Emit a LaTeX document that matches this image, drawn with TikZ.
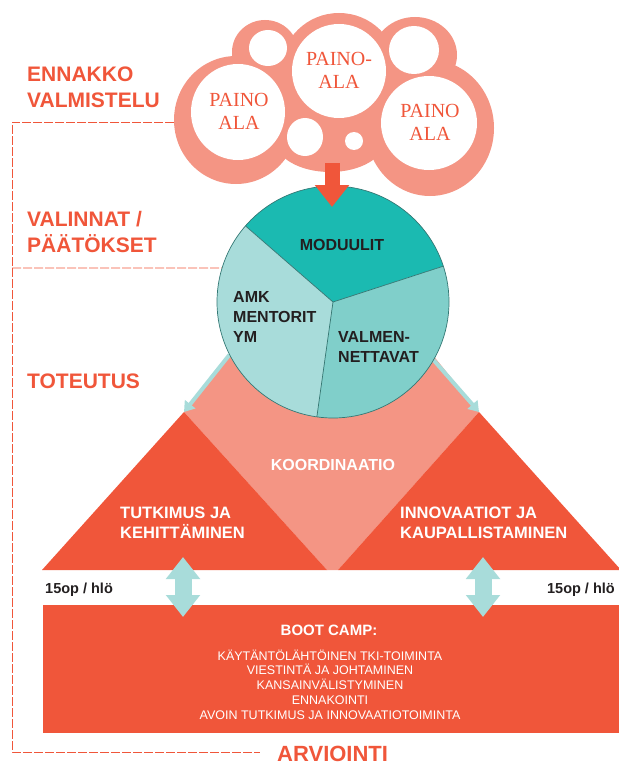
\documentclass[tikz,border=0pt]{standalone}
\usepackage{fontspec}
\setmainfont{Liberation Sans}
\newfontfamily\painofont{Liberation Serif}
\usetikzlibrary{arrows.meta,positioning}

\definecolor{oranssi}{RGB}{240,86,58}
\definecolor{lohi}{RGB}{244,149,132}
\definecolor{turkoosi}{RGB}{27,186,177}
\definecolor{turkoosi2}{RGB}{128,207,202}
\definecolor{vaalea}{RGB}{168,220,218}
\definecolor{tumma}{RGB}{35,31,32}
\definecolor{reuna}{RGB}{52,120,116}

\tikzset{
  lbl/.style={anchor=west, inner sep=0pt, align=left, text=oranssi, font=\bfseries\fontsize{21}{26}\selectfont},
  paino/.style={inner sep=0pt, align=center, text=oranssi, font=\painofont\fontsize{20}{23}\selectfont},
  pietxt/.style={inner sep=0pt, align=left, text=tumma, font=\bfseries\fontsize{16}{20}\selectfont},
  whitetxt/.style={inner sep=0pt, align=left, text=white, font=\bfseries\fontsize{16.5}{20}\selectfont},
  optxt/.style={inner sep=0pt, text=tumma, font=\bfseries\fontsize{14.5}{17}\selectfont},
  frameline/.style={oranssi, line width=0.8pt, dash pattern=on 9pt off 2pt},
  kupla/.style={fill=lohi},
  reika/.style={fill=white},
  vaaleanuoli/.style={vaalea, line width=4pt, -{Triangle[width=13pt,length=10pt]}},
  tuplanuoli/.style={vaalea, line width=17pt, {Triangle[width=33pt,length=22pt]}-{Triangle[width=33pt,length=22pt]}},
}

\begin{document}
\begin{tikzpicture}[x=1pt,y=1pt]

\useasboundingbox (0,0) rectangle (618,-765);

\node[circle, minimum size=232pt, inner sep=0pt] (pie) at (333,-302) {};
\coordinate (pilvireuna) at (174,-122);
\coordinate (kulma) at (12,-752);
\coordinate (loppu) at (260,-752);

% katkoviivat
\draw[frameline] (pilvireuna) -- (12,-122) -- (kulma) -- (loppu);
\draw[frameline] (12,-268) -- (pie.163);

% pilvi
\fill[kupla] (236,-120) ellipse [x radius=62, y radius=64];
\fill[kupla] (265,-52) ellipse [x radius=33, y radius=32];
\fill[kupla] (339,-70) ellipse [x radius=58, y radius=57];
\fill[kupla] (415,-55) ellipse [x radius=42, y radius=38];
\fill[kupla] (430,-128) ellipse [x radius=64, y radius=68];
\fill[kupla] (330,-140) ellipse [x radius=55, y radius=32];
\fill[kupla] (340,-110) ellipse [x radius=60, y radius=50];

\fill[reika] (238,-112) ellipse [x radius=47, y radius=48];
\fill[reika] (339,-71) ellipse [x radius=47, y radius=47];
\fill[reika] (429,-123) ellipse [x radius=48, y radius=47];
\fill[reika] (268,-48) ellipse [x radius=19, y radius=18];
\fill[reika] (414,-50) ellipse [x radius=25, y radius=24];
\fill[reika] (305,-137) ellipse [x radius=18, y radius=19];
\fill[reika] (354,-141) ellipse [x radius=9, y radius=9];

\node[paino] (paino1) at (239,-111) {PAINO\\ALA};
\node[paino] (paino2) at (339,-70) {PAINO-\\ALA};
\node[paino] (paino3) at (430,-122) {PAINO\\ALA};

% kolmiot
\coordinate (kehApex) at (184,-412);
\coordinate (innoApex) at (479,-412);
\fill[lohi] (333,-232) -- (kehApex) -- (327,-570) -- (338,-570) -- (innoApex) -- cycle;
\fill[oranssi] (kehApex) -- (42,-570) -- (327,-570) -- cycle;
\fill[oranssi] (innoApex) -- (338,-570) -- (621,-570) -- cycle;

\draw[vaaleanuoli] (pie.207) -- (kehApex);
\draw[vaaleanuoli] (pie.330) -- (innoApex);

% ympyra
\fill[turkoosi] (pie.center) -- ++(18:116) arc[start angle=18, end angle=139, radius=116] -- cycle;
\fill[vaalea] (pie.center) -- ++(139:116) arc[start angle=139, end angle=262, radius=116] -- cycle;
\fill[turkoosi2] (pie.center) -- ++(262:116) arc[start angle=262, end angle=378, radius=116] -- cycle;
\draw[reuna, line width=0.7pt] (pie.center) circle [radius=116];
\foreach \a in {18,139,262}
  \draw[reuna, line width=0.7pt] (pie.center) -- ++(\a:116);

\coordinate (pilviala) at (332,-163);
\coordinate (piekarki) at (332,-207);
\draw[oranssi, line width=15pt, -{Triangle[width=33pt,length=22pt]}] (pilviala) -- (piekarki);

% boot camp
\node[fill=oranssi, minimum width=578pt, minimum height=128pt, inner sep=0pt, anchor=north west] (boot) at (43,-605) {};

\coordinate (kehAla) at (183,-557);
\coordinate (kehBoot) at (183,-617);
\coordinate (innoAla) at (483,-557);
\coordinate (innoBoot) at (483,-617);
\draw[tuplanuoli] (kehAla) -- (kehBoot);
\draw[tuplanuoli] (innoAla) -- (innoBoot);

\node[lbl] (ennakko) at (27,-87) {ENNAKKO\\VALMISTELU};
\node[lbl] (valinnat) at (27,-232) {VALINNAT /\\PÄÄTÖKSET};
\node[lbl] (toteutus) at (27,-381) {TOTEUTUS};
\node[lbl, font=\bfseries\fontsize{22}{26}\selectfont] (arviointi) at (277,-754) {ARVIOINTI};

\node[pietxt] (moduulit) at (342,-245) {MODUULIT};
\node[pietxt, anchor=west] (amk) at (233,-317) {AMK\\MENTORIT\\YM};
\node[pietxt, anchor=west] (valmen) at (338,-347) {VALMEN-\\NETTAVAT};

\node[whitetxt, font=\bfseries\fontsize{16}{20}\selectfont] (koord) at (333,-465) {KOORDINAATIO};
\node[whitetxt, anchor=west] (tutkimus) at (120,-523) {TUTKIMUS JA\\KEHITTÄMINEN};
\node[whitetxt, anchor=west] (innovaatiot) at (400,-523) {INNOVAATIOT JA\\KAUPALLISTAMINEN};

\node[optxt, anchor=west] (opvasen) at (45,-590) {15op / hlö};
\node[optxt, anchor=east] (opoikea) at (615,-590) {15op / hlö};

\node[whitetxt, font=\bfseries\fontsize{15}{18}\selectfont] (boototsikko) at (329,-630) {BOOT CAMP:};
\node[inner sep=0pt, align=center, text=white, font=\fontsize{12.5}{14.75}\selectfont] (bootlista) at (330,-684.5)
  {KÄYTÄNTÖLÄHTÖINEN TKI-TOIMINTA\\VIESTINTÄ JA JOHTAMINEN\\KANSAINVÄLISTYMINEN\\ENNAKOINTI\\AVOIN TUTKIMUS JA INNOVAATIOTOIMINTA};

\end{tikzpicture}
\end{document}
